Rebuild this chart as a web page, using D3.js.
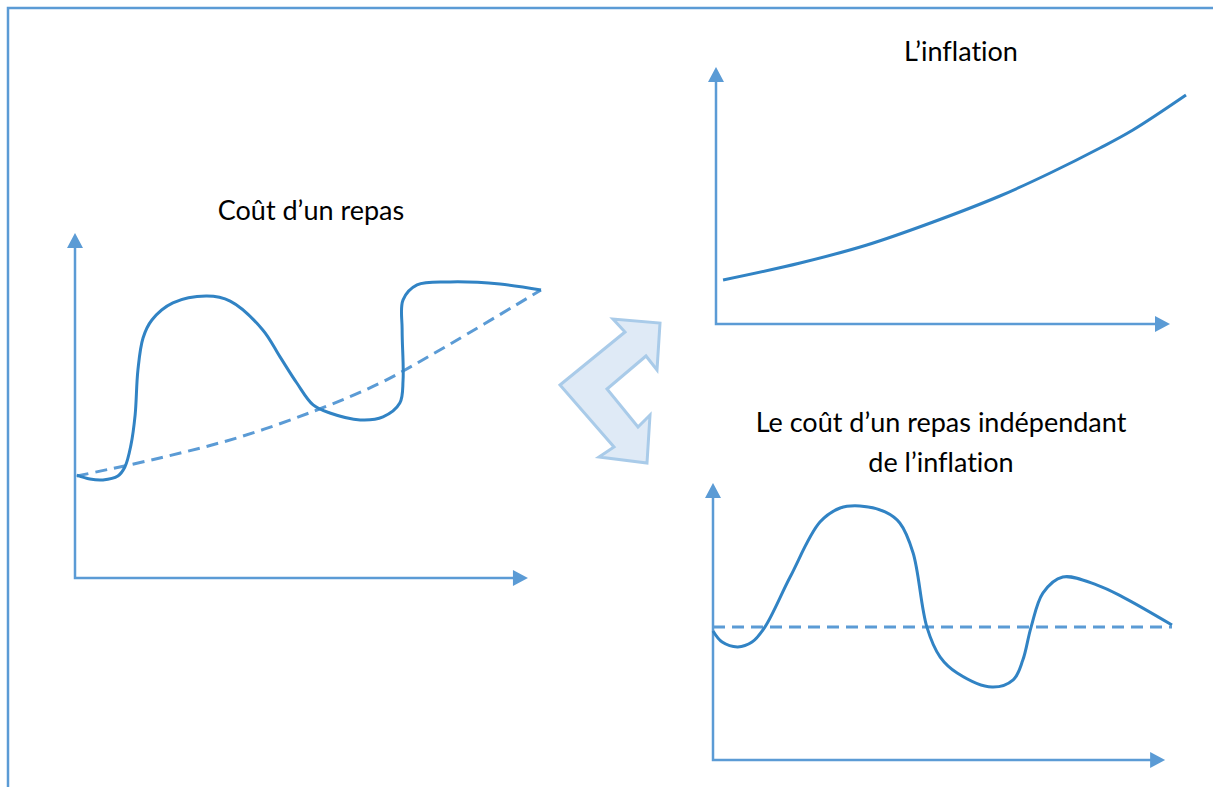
<!DOCTYPE html>
<html>
<head>
<meta charset="utf-8">
<script src="https://cdn.jsdelivr.net/npm/d3@7"></script>
<style>
  body { margin: 0; background: #fff; }
  text { font-family: Lato, "Open Sans", sans-serif; fill: #000; font-variant-ligatures: none; }
</style>
</head>
<body>
<div id="chart-area"></div>
<script>
// Sketch data (arbitrary units 0-100)

// left: the price of a meal, with the inflation trend dashed
var mealX = [0.4, 3.2, 6, 9.2, 10.7, 12, 12.9, 13.5, 14.6, 16.5, 21, 28.3, 33.3, 40.3, 44, 47.6, 51.1, 54.7, 61.2, 66.1, 69.7, 70.4, 70.2, 70.4, 73.4, 80.5, 91.2, 100];
var mealY = [34.3, 33, 32.7, 34, 37, 44.3, 54.3, 69.3, 80, 86, 91.7, 94, 92.3, 82.7, 73.7, 65, 57.7, 55, 52.7, 53.7, 58.3, 66, 82.7, 92.7, 97.7, 98.7, 98, 96];
var trendX = [0.4, 18.2, 35.4, 51.9, 65.5, 78.3, 100];
var trendY = [34, 40, 47, 56, 65, 76, 96];

// top right: inflation
var inflX = [1.5, 17.9, 32.1, 46.2, 60.4, 71.1, 81.7, 88.7, 100];
var inflY = [17.6, 24.4, 31.6, 40.8, 51.2, 60.4, 70.4, 77.6, 91.6];

// bottom right: meal price without inflation
var realX = [0, 2, 5.4, 8.5, 11.3, 16.8, 23.3, 27.7, 32, 37.5, 40.7, 43.6, 46.6, 49.5, 53.2, 60.8, 65.4, 67.5, 69.3, 71.9, 76.2, 83.7, 89.3, 100];
var realY = [43, 39.3, 37.7, 39.3, 44.3, 61, 79.3, 84, 84.7, 82.7, 79, 69, 44.3, 34.3, 29, 24.3, 26.7, 33.3, 44.3, 55.7, 61, 58.3, 54.3, 45];
var realBase = 44.3;

var titles = ["Coût d’un repas", "L’inflation", "Le coût d’un repas indépendant", "de l’inflation"];

var axisCol = "#5b9bd5", curveCol = "#3183c4";

var svg = d3.select("#chart-area").append("svg")
    .attr("width", 1213)
    .attr("height", 787);

// frame
svg.append("path")
    .attr("d", "M8,787 V8 H1213")
    .attr("fill", "none")
    .attr("stroke", axisCol)
    .attr("stroke-width", 2.5);

var line = (x, y) => d3.line()
    .x(d => x(d[0]))
    .y(d => y(d[1]))
    .curve(d3.curveCatmullRom.alpha(0.5));

function zip(a, b) { return a.map((v, i) => [v, b[i]]); }

function drawAxes(g, x, y, xEnd, yEnd) {
    var ox = x(0), oy = y(0);
    var tx = x(xEnd), ty = y(yEnd);
    g.append("path")
        .attr("d", `M${ox},${ty + 14} V${oy} H${tx - 14}`)
        .attr("fill", "none")
        .attr("stroke", axisCol)
        .attr("stroke-width", 2.5);
    g.append("path")
        .attr("d", `M${ox},${ty} L${ox - 8},${ty + 15} L${ox + 8},${ty + 15} Z`)
        .attr("fill", axisCol);
    g.append("path")
        .attr("d", `M${tx},${oy} L${tx - 15},${oy - 8} L${tx - 15},${oy + 8} Z`)
        .attr("fill", axisCol);
}

// ---- left chart
var x1 = d3.scaleLinear().domain([0, 100]).range([75, 541]);
var y1 = d3.scaleLinear().domain([0, 100]).range([578, 278]);
var g1 = svg.append("g");
drawAxes(g1, x1, y1, 97.2, 115);
g1.append("path")
    .attr("d", line(x1, y1)(zip(trendX, trendY)))
    .attr("fill", "none")
    .attr("stroke", axisCol)
    .attr("stroke-width", 3)
    .attr("stroke-dasharray", "12,7");
g1.append("path")
    .attr("d", line(x1, y1)(zip(mealX, mealY)))
    .attr("fill", "none")
    .attr("stroke", curveCol)
    .attr("stroke-width", 3);
g1.append("text")
    .attr("x", 311).attr("y", 220)
    .attr("text-anchor", "middle")
    .attr("font-size", 27)
    .text(titles[0]);

// ---- top right chart
var x2 = d3.scaleLinear().domain([0, 100]).range([716, 1186]);
var y2 = d3.scaleLinear().domain([0, 100]).range([324, 74]);
var g2 = svg.append("g");
drawAxes(g2, x2, y2, 96.6, 102.8);
g2.append("path")
    .attr("d", line(x2, y2)(zip(inflX, inflY)))
    .attr("fill", "none")
    .attr("stroke", curveCol)
    .attr("stroke-width", 3);
g2.append("text")
    .attr("x", 961).attr("y", 61)
    .attr("text-anchor", "middle")
    .attr("font-size", 27)
    .text(titles[1]);

// ---- bottom right chart
var x3 = d3.scaleLinear().domain([0, 100]).range([713, 1172]);
var y3 = d3.scaleLinear().domain([0, 100]).range([760, 460]);
var g3 = svg.append("g");
drawAxes(g3, x3, y3, 98.5, 92.3);
g3.append("line")
    .attr("x1", x3(0)).attr("x2", x3(100))
    .attr("y1", y3(realBase)).attr("y2", y3(realBase))
    .attr("stroke", axisCol)
    .attr("stroke-width", 3)
    .attr("stroke-dasharray", "12,7");
g3.append("path")
    .attr("d", line(x3, y3)(zip(realX, realY)))
    .attr("fill", "none")
    .attr("stroke", curveCol)
    .attr("stroke-width", 3);
g3.selectAll("text.t")
    .data(titles.slice(2))
    .enter().append("text")
        .attr("x", 941)
        .attr("y", (d, i) => 432 + i * 40)
        .attr("text-anchor", "middle")
        .attr("font-size", 27)
        .text(d => d);

// ---- double arrow between the charts
var arrow = [[560, 385], [625, 332], [613, 319], [660, 323], [657, 370], [646, 356], [607, 389],
             [638, 427], [650, 415], [647, 463], [599, 457], [614, 447]];
svg.append("polygon")
    .attr("points", arrow.map(p => p.join(",")).join(" "))
    .attr("fill", "#dfeaf6")
    .attr("stroke", "#a9cbe9")
    .attr("stroke-width", 3)
    .attr("stroke-linejoin", "miter");
</script>
</body>
</html>
